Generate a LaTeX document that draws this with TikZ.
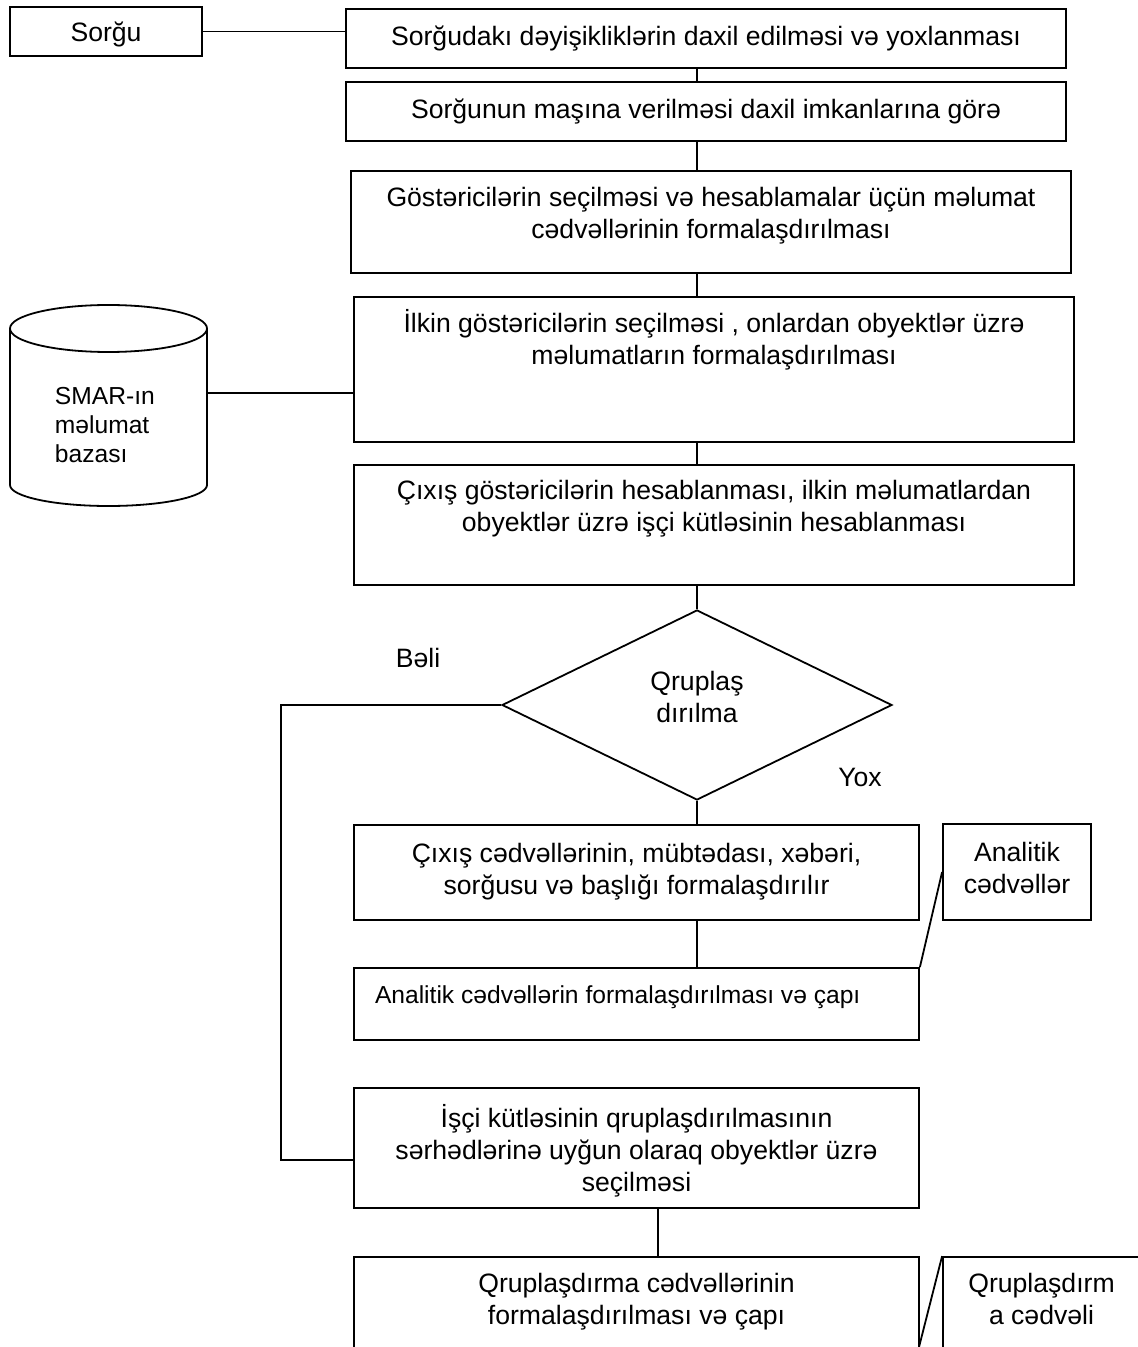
\documentclass[tikz,border=0pt]{standalone}
\usepackage{fontspec}
\setmainfont{Liberation Sans}
\usetikzlibrary{shapes.geometric}
\newcommand\mainsize{\fontsize{13.3}{16}\selectfont}
\newcommand\smallsize{\fontsize{12.3}{15}\selectfont}
\newcommand\dbsize{\fontsize{12.3}{14.5}\selectfont}
% fixed-size text block: width, height, gap above the first line, lines
\newcommand\cellC[4]{\parbox[c][#2][t]{#1}{\centering\vspace*{#3}#4}}
\newcommand\cellL[5]{\parbox[c][#2][t]{#1}{\raggedright\leftskip=#4\vspace*{#3}#5}}
\begin{document}
\begin{tikzpicture}[x=0.5pt,y=-0.5pt,line width=0.9pt,
  box/.style={draw,rectangle,inner sep=0pt,font=\mainsize},
  plainbox/.style={box,align=center},
  decision/.style={draw,diamond,inner sep=0pt,align=center,font=\mainsize},
  txt/.style={inner sep=0pt,font=\mainsize},
  link/.style={draw}]
\useasboundingbox (0,0) rectangle (1138,1347);

% upper chain
\node[plainbox,minimum width=96pt,minimum height=24.5pt,text depth=0pt] (sorgu) at (106,31.5) {Sorğu};
\node[plainbox,minimum width=360pt,minimum height=29.5pt] (b1) at (706,38.5)
  {Sorğudakı dəyişikliklərin daxil edilməsi və yoxlanması};
\node[plainbox,minimum width=360pt,minimum height=29.5pt] (b2) at (706,111.5)
  {Sorğunun maşına verilməsi daxil imkanlarına görə};
\node[box] (b3) at (711,222) {\cellC{360pt}{51pt}{6.55pt}{%
  \strut Göstəricilərin seçilməsi və hesablamalar üçün məlumat\\
  \strut cədvəllərinin formalaşdırılması}};
\node[box] (b4) at (714,369.5) {\cellC{360pt}{72.5pt}{6.05pt}{%
  \strut İlkin göstəricilərin seçilməsi , onlardan obyektlər üzrə\\
  \strut məlumatların formalaşdırılması}};
\node[box] (b5) at (714,525) {\cellC{360pt}{60pt}{6.05pt}{%
  \strut Çıxış göstəricilərin hesablanması, ilkin məlumatlardan\\
  \strut obyektlər üzrə işçi kütləsinin hesablanması}};

% database
\draw (108.5,328.5) ellipse [x radius=98.5, y radius=23.5];
\draw (10,328.5) -- (10,485) arc [start angle=180, end angle=0, x radius=98.5, y radius=21] -- (207,328.5);
\node[box,draw=none,font=\dbsize] (db) at (108.5,393) {\cellL{98.5pt}{100pt}{45.85pt}{22.5pt}{%
  \strut SMAR-ın\\ \strut məlumat\\ \strut bazası}};

% decision
\node[decision,minimum width=195pt,minimum height=95pt,text depth=8pt] (dec) at (697,705) {Qruplaş\\dırılma};
\node[txt] (yes) at (418,658) {Bəli};
\node[txt] (no) at (860,777) {Yox};

% lower chain
\node[box] (b6) at (636.5,872.5) {\cellC{282.5pt}{47.5pt}{7.55pt}{%
  \strut Çıxış cədvəllərinin, mübtədası, xəbəri,\\
  \strut sorğusu və başlığı formalaşdırılır}};
\node[box] (an) at (1017,872) {\cellC{74pt}{48pt}{7.55pt}{%
  \strut Analitik\\ \strut cədvəllər}};
\node[box,font=\smallsize] (b7) at (636.5,1004) {\cellL{282.5pt}{36pt}{7.3pt}{10.5pt}{%
  \strut Analitik cədvəllərin formalaşdırılması və çapı}};
\node[box] (b8) at (636.5,1148) {\cellC{282.5pt}{60pt}{8.05pt}{%
  \strut İşçi kütləsinin qruplaşdırılmasının\\
  \strut sərhədlərinə uyğun olaraq obyektlər üzrə\\
  \strut seçilməsi}};
\node[box] (b9) at (636.5,1318.5) {\cellC{282.5pt}{61.5pt}{6.55pt}{%
  \strut Qruplaşdırma cədvəllərinin\\
  \strut formalaşdırılması və çapı}};
\node[box] (gc) at (1041.5,1318.5) {\cellC{98.5pt}{61.5pt}{6.55pt}{%
  \strut Qruplaşdırm\\ \strut a cədvəli}};

% connectors
\coordinate (spine) at (697,0);
\coordinate (drop) at (658,0);
\coordinate (loop) at (281,1160);
\coordinate (b9out) at (919,1347);
\draw[link] (sorgu.east) -- (sorgu.east -| b1.west);
\draw[link] (b1.south -| spine) -- (b2.north -| spine);
\draw[link] (b2.south -| spine) -- (b3.north -| spine);
\draw[link] (b3.south -| spine) -- (b4.north -| spine);
\draw[link] (b4.south -| spine) -- (b5.north -| spine);
\draw[link] (b5.south -| spine) -- (dec.north);
\draw[link] (db.east) -- (db.east -| b4.west);
\draw[link] (dec.south) -- (b6.north -| dec.south);
\draw[link] (b6.south -| dec.south) -- (b7.north -| dec.south);
\draw[link] (b7.north east) -- (an.west);
\draw[link] (dec.west) -| (loop) -- (loop -| b8.west);
\draw[link] (b8.south -| drop) -- (b9.north -| drop);
\draw[link] (b9out) -- (gc.north west);
\end{tikzpicture}
\end{document}
